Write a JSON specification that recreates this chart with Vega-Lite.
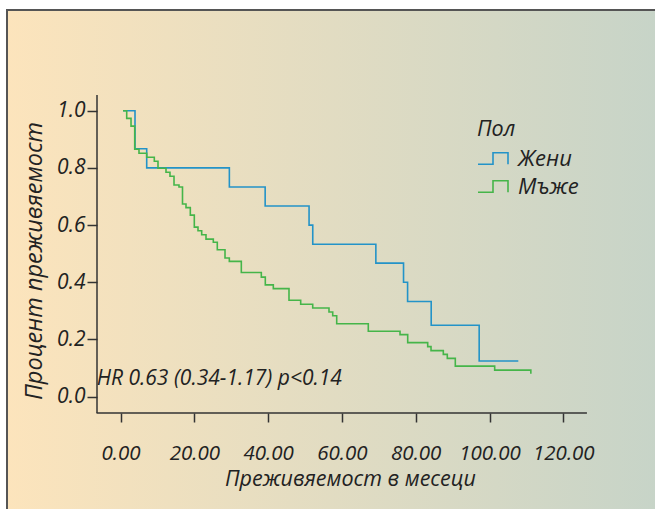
{
  "$schema": "https://vega.github.io/schema/vega-lite/v6.json",
  "width": 650,
  "height": 501,
  "padding": {"left": 7, "top": 10, "right": 0, "bottom": 0},
  "background": "#ffffff",
  "config": {
    "view": {
      "stroke": "#555555",
      "strokeWidth": 2,
      "fill": {"gradient": "linear", "x1": 0, "y1": 0, "x2": 1, "y2": 0,
        "stops": [{"offset": 0, "color": "#FCE4BC"}, {"offset": 1, "color": "#C7D4C8"}]}
    },
    "font": "Open Sans"
  },
  "encoding": {
    "x": {"field": "t", "type": "quantitative",
      "scale": {"domain": [-30.76, 145.39], "nice": false, "zero": false},
      "axis": {"orient": "bottom", "offset": -98, "values": [0, 20, 40, 60, 80, 100, 120], "format": ".2f",
        "domain": false, "grid": false, "tickSize": 9, "tickWidth": 1.5, "tickColor": "#333333",
        "labelPadding": 21, "labelFont": "Open Sans", "labelFontStyle": "italic", "labelFontSize": 20.5, "labelColor": "#222222",
        "title": "Преживяемост в месеци", "titleFont": "Open Sans", "titleFontStyle": "italic", "titleFontWeight": "normal",
        "titleFontSize": 21.5, "titleColor": "#222222", "titleX": 343, "titlePadding": 5}},
    "y": {"field": "s", "type": "quantitative",
      "scale": {"domain": [-0.3997, 1.3521], "nice": false, "zero": false},
      "axis": {"orient": "left", "offset": -90, "values": [0, 0.2, 0.4, 0.6, 0.8, 1.0], "format": ".1f",
        "domain": false, "grid": false, "tickSize": 10, "tickWidth": 1.5, "tickColor": "#333333",
        "labelPadding": 2, "labelFont": "Open Sans", "labelFontStyle": "italic", "labelFontSize": 21, "labelColor": "#222222",
        "title": "Процент преживяемост", "titleFont": "Open Sans", "titleFontStyle": "italic", "titleFontWeight": "normal",
        "titleFontSize": 23.5, "titleColor": "#222222", "titlePadding": 10}}
  },
  "layer": [
    {
      "data": {"values": [{"t": -6.5, "t2": 126.4, "s": -0.057}]},
      "mark": {"type": "rule", "color": "#333333", "strokeWidth": 1.5},
      "encoding": {"x2": {"field": "t2"}}
    },
    {
      "data": {"values": [{"t": -6.37, "s": -0.057, "s2": 1.055}]},
      "mark": {"type": "rule", "color": "#333333", "strokeWidth": 1.5},
      "encoding": {"y2": {"field": "s2"}}
    },
    {
      "data": {"values": [
        {"group": "Жени", "t": 0.7, "s": 1.0},
        {"group": "Жени", "t": 3.93, "s": 0.867},
        {"group": "Жени", "t": 7.1, "s": 0.8},
        {"group": "Жени", "t": 29.5, "s": 0.733},
        {"group": "Жени", "t": 39.2, "s": 0.667},
        {"group": "Жени", "t": 51.1, "s": 0.6},
        {"group": "Жени", "t": 52.1, "s": 0.533},
        {"group": "Жени", "t": 69.2, "s": 0.467},
        {"group": "Жени", "t": 76.7, "s": 0.4},
        {"group": "Жени", "t": 77.8, "s": 0.333},
        {"group": "Жени", "t": 84.2, "s": 0.25},
        {"group": "Жени", "t": 97.2, "s": 0.125},
        {"group": "Жени", "t": 107.8, "s": 0.125},
        {"group": "Мъже", "t": 0.7, "s": 1.0},
        {"group": "Мъже", "t": 1.68, "s": 0.973},
        {"group": "Мъже", "t": 2.85, "s": 0.946},
        {"group": "Мъже", "t": 3.85, "s": 0.865},
        {"group": "Мъже", "t": 5.01, "s": 0.851},
        {"group": "Мъже", "t": 7.1, "s": 0.837},
        {"group": "Мъже", "t": 9.16, "s": 0.823},
        {"group": "Мъже", "t": 10.16, "s": 0.799},
        {"group": "Мъже", "t": 12.33, "s": 0.785},
        {"group": "Мъже", "t": 13.41, "s": 0.771},
        {"group": "Мъже", "t": 14.5, "s": 0.74},
        {"group": "Мъже", "t": 15.85, "s": 0.733},
        {"group": "Мъже", "t": 16.8, "s": 0.674},
        {"group": "Мъже", "t": 17.75, "s": 0.661},
        {"group": "Мъже", "t": 18.92, "s": 0.635},
        {"group": "Мъже", "t": 20.0, "s": 0.593},
        {"group": "Мъже", "t": 21.0, "s": 0.58},
        {"group": "Мъже", "t": 22.0, "s": 0.566},
        {"group": "Мъже", "t": 23.17, "s": 0.551},
        {"group": "Мъже", "t": 25.15, "s": 0.54},
        {"group": "Мъже", "t": 26.23, "s": 0.514},
        {"group": "Мъже", "t": 28.32, "s": 0.485},
        {"group": "Мъже", "t": 29.49, "s": 0.473},
        {"group": "Мъже", "t": 32.74, "s": 0.434},
        {"group": "Мъже", "t": 38.16, "s": 0.418},
        {"group": "Мъже", "t": 39.24, "s": 0.391},
        {"group": "Мъже", "t": 41.41, "s": 0.378},
        {"group": "Мъже", "t": 45.66, "s": 0.337},
        {"group": "Мъже", "t": 48.83, "s": 0.323},
        {"group": "Мъже", "t": 52.09, "s": 0.31},
        {"group": "Мъже", "t": 56.5, "s": 0.296},
        {"group": "Мъже", "t": 57.51, "s": 0.283},
        {"group": "Мъже", "t": 58.59, "s": 0.255},
        {"group": "Мъже", "t": 67.15, "s": 0.229},
        {"group": "Мъже", "t": 75.75, "s": 0.217},
        {"group": "Мъже", "t": 77.83, "s": 0.189},
        {"group": "Мъже", "t": 83.25, "s": 0.175},
        {"group": "Мъже", "t": 84.15, "s": 0.161},
        {"group": "Мъже", "t": 87.48, "s": 0.148},
        {"group": "Мъже", "t": 88.56, "s": 0.134},
        {"group": "Мъже", "t": 90.73, "s": 0.107},
        {"group": "Мъже", "t": 101.4, "s": 0.093},
        {"group": "Мъже", "t": 111.2, "s": 0.08}
      ]},
      "mark": {"type": "line", "interpolate": "step-after", "strokeWidth": 1.6},
      "encoding": {
        "color": {"field": "group", "type": "nominal",
          "scale": {"domain": ["Жени", "Мъже"], "range": ["#2393C8", "#45B549"]},
          "legend": {"orient": "none", "legendX": 470, "legendY": 109, "title": "Пол", "padding": 0,
            "symbolType": "M-1,0.38H0V-0.38H1V0.38", "symbolSize": 900, "symbolStrokeWidth": 1.6,
            "symbolFillColor": "transparent", "labelOffset": 9, "rowPadding": 1, "titlePadding": 2,
            "labelFont": "Open Sans", "labelFontStyle": "italic", "labelFontSize": 22, "labelColor": "#222222",
            "titleFont": "Open Sans", "titleFontStyle": "italic", "titleFontWeight": "normal", "titleFontSize": 21.5, "titleColor": "#222222"}}
      }
    },
    {
      "data": {"values": [{"t": -6.45, "s": 0.062, "label": "HR 0.63 (0.34-1.17) p<0.14"}]},
      "mark": {"type": "text", "align": "left", "baseline": "middle", "font": "Open Sans", "fontStyle": "italic", "fontSize": 21, "color": "#222222"},
      "encoding": {"text": {"field": "label"}}
    }
  ]
}
